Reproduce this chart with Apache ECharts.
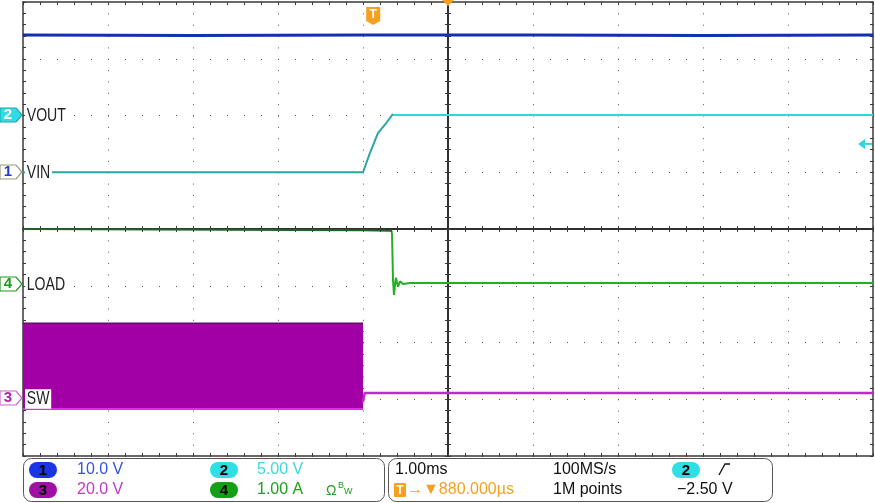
<!DOCTYPE html>
<html><head><meta charset="utf-8">
<script src="https://cdn.jsdelivr.net/npm/echarts@6/dist/echarts.min.js"></script>
<style>html,body{margin:0;padding:0;background:#fff}#c{width:875px;height:503px}</style>
</head><body><div id="c"></div>
<script>
// ---- Data (time in ms relative to screen centre, amplitude in divisions) ----
const vinT = [-5, -3, -1, 1, 3, 5];
const vinV = [3.42, 3.41, 3.42, 3.42, 3.41, 3.42];

const voutBeforeT = [-5, -1.0, -0.918, -0.824, -0.718, -0.647];
const voutBeforeV = [1.0, 1.0, 1.34, 1.69, 1.885, 2.03];
const voutAfterT = [-0.647, 5];
const voutAfterV = [2.01, 2.01];

const loadBeforeT = [-5, -1.0, -0.67, -0.659];
const loadBeforeV = [0, -0.02, -0.03, -0.06];
const loadAfterT = [-0.659, -0.647, -0.635, -0.624, -0.612, -0.588, -0.565, -0.529, -0.447, 5];
const loadAfterV = [-0.06, -0.90, -1.16, -0.99, -0.86, -1.02, -0.92, -0.97, -0.95, -0.95];

const swT = [-5, -1.0];
const swHigh = [-1.66, -1.66];
const swLow = [-3.17, -3.17];
const swAfterT = [-1.0, -0.98, 5];
const swAfterV = [-3.05, -2.89, -2.89];

const chanNames = ['VOUT', 'VIN', 'LOAD', 'SW'];
const chanNums = ['2', '1', '4', '3'];
const chanLevels = [2.01, 1.0, -0.97, -2.98];
const triggerTime = -0.88;
const triggerLevel = 1.5;

const panelScale = ['10.0 V', '20.0 V', '5.00 V', '1.00 A'];
const panelTime = ['1.00ms', '100MS/s', '1M points', '−2.50 V', '→▼880.000µs'];

// ---- Chart ----
const chart = echarts.init(document.getElementById('c'), null, {renderer: 'canvas'});
const pts = (t, v) => t.map((x, i) => [x, v[i]]);
const AX = '#3a3a3a';

function xAx(pos, onZero, split) {
  return {
    type: 'value', min: -5, max: 5, interval: 1, position: pos,
    axisLine: {show: true, onZero: onZero, onZeroAxisIndex: 0, lineStyle: {color: onZero ? '#222' : AX, width: 1.5}},
    axisTick: {show: true, inside: true, length: 3, lineStyle: {color: AX}},
    minorTick: {show: true, splitNumber: 5, length: 3, lineStyle: {color: AX}},
    axisLabel: {show: false},
    splitLine: {show: split, lineStyle: {color: '#555', width: 1, type: [1, 10.35]}}
  };
}
function yAx(pos, onZero, split) {
  return {
    type: 'value', min: -4, max: 4, interval: 1, position: pos,
    axisLine: {show: true, onZero: onZero, onZeroAxisIndex: 0, lineStyle: {color: onZero ? '#222' : AX, width: 1.5}},
    axisTick: {show: true, inside: true, length: 3, lineStyle: {color: AX}},
    minorTick: {show: true, splitNumber: 5, length: 3, lineStyle: {color: AX}},
    axisLabel: {show: false},
    splitLine: {show: split, lineStyle: {color: '#555', width: 1, type: [1, 16]}}
  };
}
function ln(data, color, width, z) {
  return {
    type: 'line', data: data, symbol: 'none', showSymbol: false, silent: true,
    animation: false, lineStyle: {color: color, width: width}, z: z
  };
}

chart.setOption({
  animation: false,
  grid: {left: 23, top: 2, width: 850, height: 454, containLabel: false},
  xAxis: [xAx('bottom', false, true), xAx('top', false, false), xAx('bottom', true, false), xAx('top', true, false)],
  yAxis: [yAx('left', false, true), yAx('right', false, false), yAx('left', true, false), yAx('right', true, false)],
  series: [
    {
      type: 'custom', z: 3, silent: true, animation: false,
      data: swT.map((t, i) => [t, swHigh[i], swLow[i]]),
      encode: {x: 0, y: [1, 2]},
      renderItem: function (params, api) {
        const i = params.dataIndex;
        if (i >= swT.length - 1) return null;
        const p = [api.coord([swT[i], swHigh[i]]), api.coord([swT[i + 1], swHigh[i + 1]]),
                   api.coord([swT[i + 1], swLow[i + 1]]), api.coord([swT[i], swLow[i]])];
        return {type: 'polygon', shape: {points: p}, style: {fill: '#a200a6'}};
      }
    },
    ln(pts(swT, swHigh), '#5e1062', 1.5, 4),
    ln(pts(swT, swLow), '#e22cec', 2, 4),
    ln(pts(swAfterT, swAfterV), '#c02ac6', 2.5, 4),
    ln(pts(vinT, vinV), '#1230b0', 3, 4),
    ln(pts(loadBeforeT, loadBeforeV), '#24602a', 2, 4),
    ln(pts(loadAfterT, loadAfterV), '#22b022', 2, 4),
    ln(pts(voutBeforeT, voutBeforeV), '#2aa6a8', 2, 5),
    ln(pts(voutAfterT, voutAfterV), '#34d6de', 2, 5)
  ]
});

// ---- Overlays positioned via the chart's own scales ----
const toPx = (x, y) => chart.convertToPixel({xAxisIndex: 0, yAxisIndex: 0}, [x, y]);
const FONT_P = '"Liberation Sans","DejaVu Sans",sans-serif';
const markerStyle = {
  '2': {fill: '#30dde6', stroke: '#1aa8b0', text: '#ffffff'},
  '1': {fill: '#ffffff', stroke: '#9a9a80', text: '#1f3ad8'},
  '4': {fill: '#ffffff', stroke: '#1c9a1c', text: '#1c9a1c'},
  '3': {fill: '#ffffff', stroke: '#d060d0', text: '#b020b0'}
};
const g = [];
chanNames.forEach((name, i) => {
  const y = Math.round(toPx(0, chanLevels[i])[1]);
  const ms = markerStyle[chanNums[i]];
  g.push({type: 'polygon', z: 100, shape: {points: [[0, y - 7], [16, y - 7], [22, y], [16, y + 7], [0, y + 7]]},
          style: {fill: ms.fill, stroke: ms.stroke, lineWidth: 1.2}});
  g.push({type: 'text', z: 101, x: 8, y: y, style: {text: chanNums[i], fill: ms.text, font: 'bold 15px ' + FONT_P, textAlign: 'center', textVerticalAlign: 'middle'}});
  g.push({type: 'text', z: 101, x: 25, y: y + 1, scaleX: 0.88, scaleY: 1.15,
          style: {text: name, fill: '#222', font: '16px ' + FONT_P, textVerticalAlign: 'middle', backgroundColor: '#fff', padding: [1, 2, 0, 2]}});
});
// trigger level arrow (right)
const ty = toPx(5, triggerLevel)[1];
g.push({type: 'polygon', z: 100, shape: {points: [[858, ty], [865, ty - 5], [865, ty + 5]]}, style: {fill: '#34d6de'}});
g.push({type: 'line', z: 100, shape: {x1: 864, y1: ty, x2: 872, y2: ty}, style: {stroke: '#34d6de', lineWidth: 2}});
// trigger time marker (top)
const tx = toPx(triggerTime, 0)[0];
g.push({type: 'polygon', z: 100, shape: {points: [[tx - 7, 7], [tx + 7, 7], [tx + 7, 21], [tx, 25], [tx - 7, 21]]}, style: {fill: '#f5a020'}});
g.push({type: 'text', z: 101, x: tx, y: 15, style: {text: 'T', fill: '#fff', font: 'bold 12px ' + FONT_P, textAlign: 'center', textVerticalAlign: 'middle'}});
const cx = toPx(0, 0)[0];
g.push({type: 'polygon', z: 100, shape: {points: [[cx - 6, 0], [cx + 6, 0], [cx, 6]]}, style: {fill: '#f5a020'}});

// ---- Bottom info panel ----
g.push({type: 'rect', z: 100, shape: {x: 23.5, y: 458.5, width: 361, height: 43, r: 8}, style: {fill: '#fff', stroke: '#555', lineWidth: 1}});
g.push({type: 'rect', z: 100, shape: {x: 388.5, y: 458.5, width: 384, height: 43, r: 8}, style: {fill: '#fff', stroke: '#555', lineWidth: 1}});
function pill(x, y, fill, num) {
  g.push({type: 'rect', z: 101, shape: {x: x, y: y, width: 28, height: 16, r: 8}, style: {fill: fill}});
  g.push({type: 'text', z: 102, x: x + 14, y: y + 8.5, style: {text: num, fill: '#000', font: 'bold 15px ' + FONT_P, textAlign: 'center', textVerticalAlign: 'middle'}});
}
function ptext(x, y, s, color, font) {
  g.push({type: 'text', z: 102, x: x, y: y, style: {text: s, fill: color, font: font || ('16px ' + FONT_P), textVerticalAlign: 'middle'}});
}
pill(29, 462, '#1a35e6', '1');
pill(29, 482, '#a010a4', '3');
pill(210, 462, '#2ee0e6', '2');
pill(210, 482, '#14a014', '4');
ptext(77, 470, panelScale[0], '#3552e6');
ptext(77, 490, panelScale[1], '#c038c6');
ptext(257, 470, panelScale[2], '#3cd8e0');
ptext(257, 490, panelScale[3], '#1ea01e');
ptext(326, 491, 'Ω', '#1ea01e', '14px ' + FONT_P);
ptext(338, 486, 'B', '#1ea01e', '9px ' + FONT_P);
ptext(344, 492, 'W', '#1ea01e', '9px ' + FONT_P);
ptext(395, 470, panelTime[0], '#111');
ptext(553, 470, panelTime[1], '#111');
ptext(553, 490, panelTime[2], '#111');
ptext(677, 490, panelTime[3], '#111');
pill(672, 462, '#2ee0e6', '2');
g.push({type: 'polyline', z: 102, shape: {points: [[719, 475], [725, 464], [730, 464]]}, style: {stroke: '#111', lineWidth: 1.3, fill: null}});
g.push({type: 'rect', z: 101, shape: {x: 394, y: 483, width: 12, height: 14, r: 1}, style: {fill: '#f5a020'}});
g.push({type: 'text', z: 102, x: 400, y: 490.5, style: {text: 'T', fill: '#fff', font: 'bold 12px ' + FONT_P, textAlign: 'center', textVerticalAlign: 'middle'}});
ptext(407, 490, panelTime[4], '#f5a020');

chart.setOption({graphic: {elements: g}});
</script></body></html>
